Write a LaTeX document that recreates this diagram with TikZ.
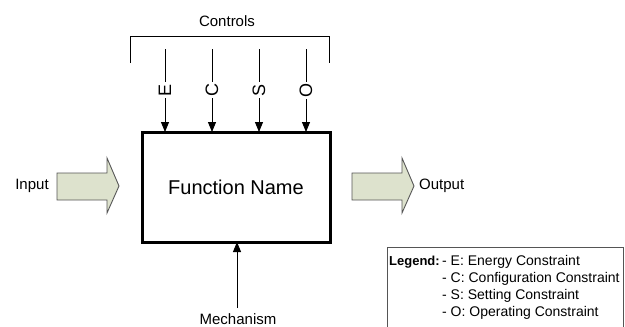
\documentclass[tikz,border=0pt]{standalone}
\usepackage{fontspec}
\setmainfont{Liberation Sans}
\usepackage{tikz}
\usetikzlibrary{arrows.meta}

\definecolor{sage}{RGB}{221,226,205}
\definecolor{arrowgray}{RGB}{85,85,85}

\begin{document}
\begin{tikzpicture}[x=1pt, y=-1pt,
        ctrl/.style={line width=0.9pt, -{Triangle[length=10pt, width=8pt]}},
        blockarrow/.style={draw=arrowgray, fill=sage, line width=0.9pt, line join=miter},
        label/.style={font=\fontsize{15}{18}\selectfont, inner sep=0pt},
        letter/.style={font=\fontsize{18}{20}\selectfont, rotate=90, fill=white, inner sep=1.5pt},
        legendtext/.style={font=\fontsize{14}{16}\selectfont, inner sep=0pt, anchor=west}]

            \useasboundingbox (0,0) rectangle (625,327);

            % function box
            \node[draw, line width=3pt, minimum width=188pt, minimum height=110pt,
                  font=\fontsize{20}{24}\selectfont] (func) at (236,187) {Function Name};

            % controls bracket
            \draw[line width=0.9pt] (130,63) -- (130,36) -- (329,36) -- (329,63);
            \node[label] (controls) at (227,21) {Controls};

            % control arrows
            \draw[ctrl] (165,49) -- (165,132);
            \draw[ctrl] (212,49) -- (212,132);
            \draw[ctrl] (259,49) -- (259,132);
            \draw[ctrl] (306,49) -- (306,132);

            \node[letter] (e) at (165,90) {E};
            \node[letter] (c) at (212,90) {C};
            \node[letter] (s) at (259,90) {S};
            \node[letter] (o) at (306,90) {O};

            % input
            \draw[blockarrow] (57,173) -- (107,173) -- (107,158) -- (119,186)
                  -- (107,213) -- (107,200) -- (57,200) -- cycle;
            \node[label] (input) at (32,186) {Input};

            % output
            \draw[blockarrow] (352,173) -- (402,173) -- (402,158) -- (414,186)
                  -- (402,213) -- (402,200) -- (352,200) -- cycle;
            \node[label, anchor=west] (output) at (419,186) {Output};

            % mechanism
            \draw[ctrl] (237,308) -- (237,242);
            \node[label] (mech) at (238,319) {Mechanism};

            % legend
            \draw[line width=0.8pt, draw=arrowgray] (387,335) -- (387,247) -- (623,247) -- (623,335);
            \node[legendtext, font=\fontsize{13}{15}\selectfont] (leg) at (389,262) {\textbf{Legend:}};
            \node[legendtext] (lege) at (442,262) {- E: Energy Constraint};
            \node[legendtext] (legc) at (442,279) {- C: Configuration Constraint};
            \node[legendtext] (legs) at (442,296) {- S: Setting Constraint};
            \node[legendtext] (lego) at (442,313) {- O: Operating Constraint};

        \end{tikzpicture}
\end{document}
